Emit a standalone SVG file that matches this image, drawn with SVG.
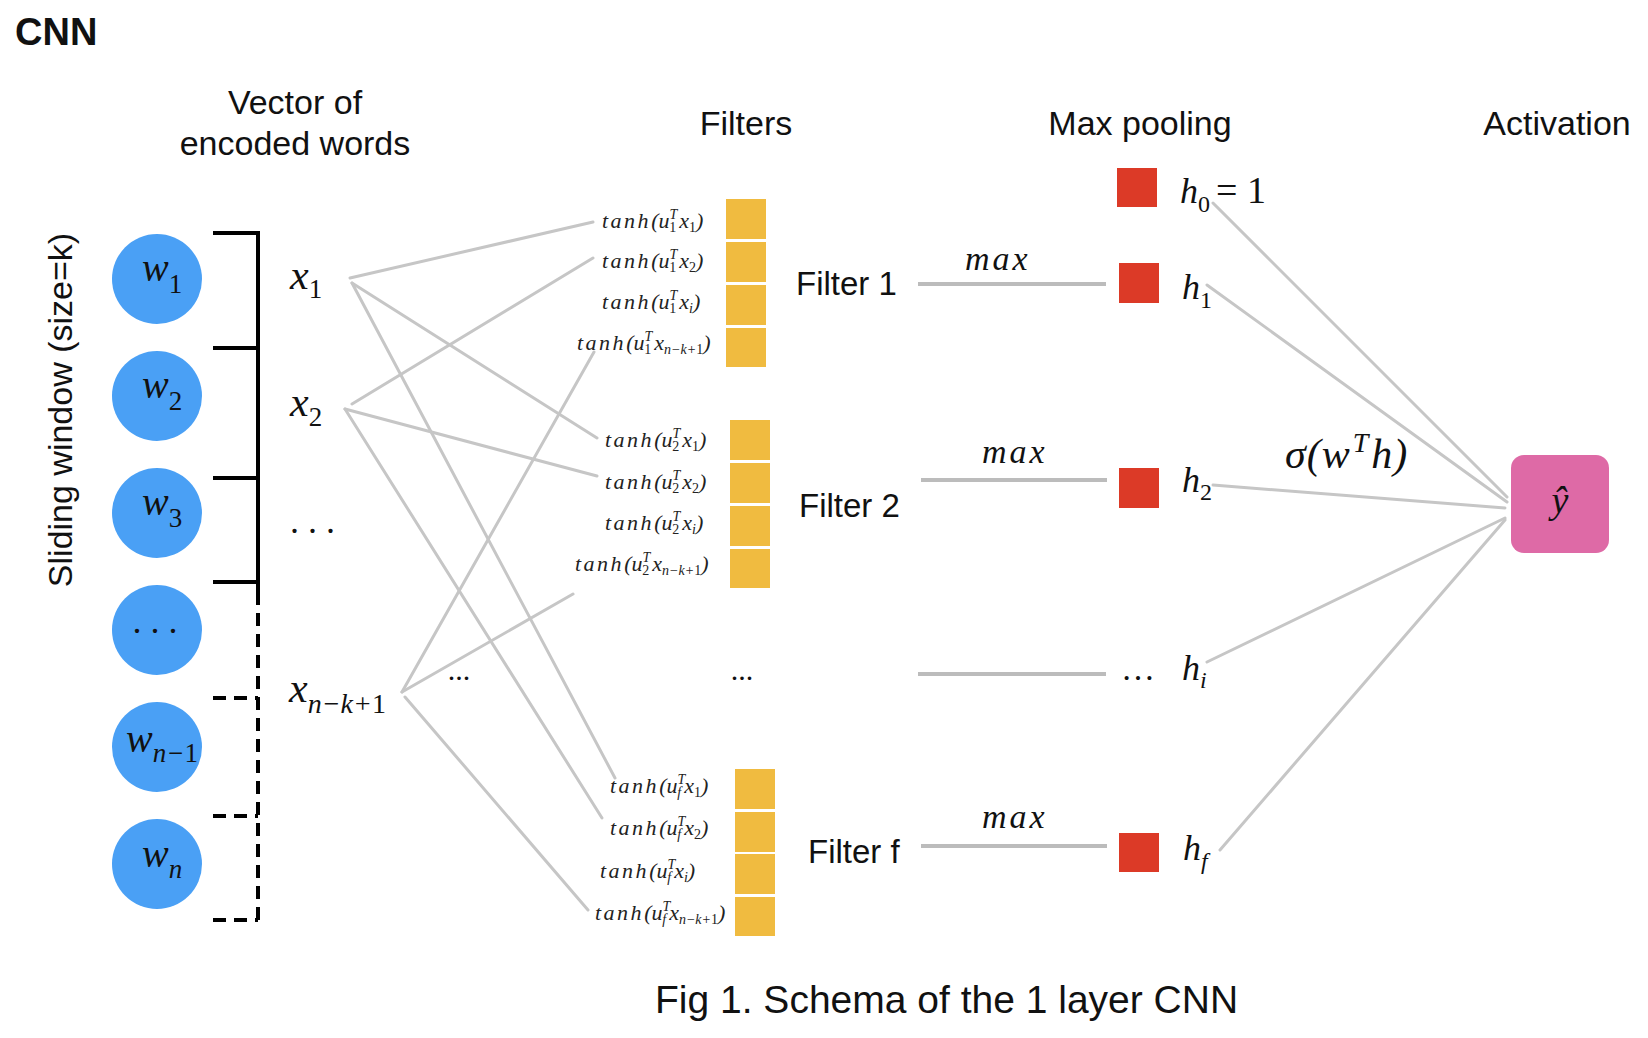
<svg xmlns="http://www.w3.org/2000/svg" width="1648" height="1038" viewBox="0 0 1648 1038">
<style>
.sans{font-family:"Liberation Sans",Arial,sans-serif;fill:#111}
.hd{font-size:34px}
.math{font-family:"Liberation Serif","Times New Roman",serif;font-style:italic;fill:#111}
.tf{font-family:"Liberation Serif","Times New Roman",serif;font-style:italic;font-size:22px;fill:#222}
.sp{letter-spacing:2.5px}
.sm{font-size:14px}
.up{font-style:normal}
.con{stroke:#c6c6c6;stroke-width:3;fill:none;stroke-linecap:round}
.mx{stroke:#bcbcbc;stroke-width:4;fill:none}
.word{fill:#4aa0f5}
.cell{fill:#f0bb40}
.pool{fill:#dc3a27}
.br{stroke:#000;stroke-width:4;fill:none}
.brd{stroke:#000;stroke-width:4;fill:none;stroke-dasharray:13 8}
</style>
<rect width="1648" height="1038" fill="#fff"/>
<text class="sans" x="15" y="45" font-size="38" font-weight="bold">CNN</text>
<g id="headers" class="sans hd" text-anchor="middle">
<text x="295" y="114">Vector of</text>
<text x="295" y="155">encoded words</text>
<text x="746" y="135">Filters</text>
<text x="1140" y="135">Max pooling</text>
<text x="1557" y="135">Activation</text>
<text transform="translate(72,410) rotate(-90)">Sliding window (size=k)</text>
</g>
<g id="connectors">
<line class="con" x1="350" y1="278" x2="593" y2="222"/>
<line class="con" x1="352" y1="283" x2="597" y2="438"/>
<line class="con" x1="352" y1="283" x2="615" y2="778"/>
<line class="con" x1="352" y1="404" x2="593" y2="258"/>
<line class="con" x1="345" y1="409" x2="597" y2="476"/>
<line class="con" x1="345" y1="409" x2="602" y2="818"/>
<line class="con" x1="402" y1="692" x2="594" y2="352"/>
<line class="con" x1="402" y1="692" x2="573" y2="594"/>
<line class="con" x1="405" y1="697" x2="588" y2="910"/>
<line class="mx" x1="918" y1="284" x2="1106" y2="284"/>
<line class="mx" x1="921" y1="480" x2="1107" y2="480"/>
<line class="mx" x1="918" y1="674" x2="1106" y2="674"/>
<line class="mx" x1="921" y1="846" x2="1107" y2="846"/>
<line class="con" x1="1213" y1="203" x2="1507" y2="497"/>
<line class="con" x1="1207" y1="285" x2="1507" y2="502"/>
<line class="con" x1="1213" y1="485" x2="1505" y2="508"/>
<line class="con" x1="1207" y1="662" x2="1505" y2="518"/>
<line class="con" x1="1220" y1="850" x2="1505" y2="520"/>
<path class="br" d="M213,233 H258 V592 M213,348 H258 M213,478 H258 M213,582 H258"/>
<path class="brd" d="M258,592 V922 M213,698 H258 M213,816 H258 M213,920 H258"/>
</g>
<g id="w1"><circle class="word" cx="157" cy="279" r="45"/><text class="math" x="142" y="281" font-size="40">w<tspan class="up" font-size="27" dy="12">1</tspan></text></g>
<g id="w2"><circle class="word" cx="157" cy="396" r="45"/><text class="math" x="142" y="398" font-size="40">w<tspan class="up" font-size="27" dy="12">2</tspan></text></g>
<g id="w3"><circle class="word" cx="157" cy="513" r="45"/><text class="math" x="142" y="515" font-size="40">w<tspan class="up" font-size="27" dy="12">3</tspan></text></g>
<g id="wdots"><circle class="word" cx="157" cy="630" r="45"/><text class="math up" x="155" y="633" font-size="36" text-anchor="middle">. . .</text></g>
<g id="wn1"><circle class="word" cx="157" cy="747" r="45"/><text class="math" x="126" y="752" font-size="40">w<tspan font-size="27" dy="10">n−</tspan><tspan class="up" font-size="27">1</tspan></text></g>
<g id="wn"><circle class="word" cx="157" cy="864" r="45"/><text class="math" x="142" y="867" font-size="40">w<tspan font-size="27" dy="11">n</tspan></text></g>
<g id="x1"><text class="math" x="290" y="289" font-size="42">x<tspan class="up" font-size="27" dy="9">1</tspan></text></g>
<g id="x2"><text class="math" x="290" y="416" font-size="42">x<tspan class="up" font-size="27" dy="10">2</tspan></text></g>
<g id="xdots"><text class="math up" x="290" y="533" font-size="36">. . .</text></g>
<g id="xnk1"><text class="math" x="289" y="702" font-size="42">x<tspan font-size="28" dy="11">n−k+</tspan><tspan class="up" font-size="28">1</tspan></text></g>
<text class="math up" x="459" y="680" font-size="30" text-anchor="middle">...</text>
<g id="filter1">
<rect class="cell" x="726" y="199" width="40" height="40"/>
<rect class="cell" x="726" y="242" width="40" height="40"/>
<rect class="cell" x="726" y="285" width="40" height="40"/>
<rect class="cell" x="726" y="328" width="40" height="39"/>
<text class="tf" x="602" y="228"><tspan class="sp">tanh</tspan>(u<tspan class="sm" dy="-9">T</tspan><tspan class="sm up" dx="-8" dy="13">1</tspan><tspan dx="3" dy="-4">x</tspan><tspan class="sm up" dy="4">1</tspan><tspan dy="-4">)</tspan></text>
<text class="tf" x="602" y="268"><tspan class="sp">tanh</tspan>(u<tspan class="sm" dy="-9">T</tspan><tspan class="sm up" dx="-8" dy="13">1</tspan><tspan dx="3" dy="-4">x</tspan><tspan class="sm up" dy="4">2</tspan><tspan dy="-4">)</tspan></text>
<text class="tf" x="602" y="309"><tspan class="sp">tanh</tspan>(u<tspan class="sm" dy="-9">T</tspan><tspan class="sm up" dx="-8" dy="13">1</tspan><tspan dx="3" dy="-4">x</tspan><tspan class="sm" dy="4">i</tspan><tspan dy="-4">)</tspan></text>
<text class="tf" x="577" y="350"><tspan class="sp">tanh</tspan>(u<tspan class="sm" dy="-9">T</tspan><tspan class="sm up" dx="-8" dy="13">1</tspan><tspan dx="3" dy="-4">x</tspan><tspan class="sm" dy="4">n−k+</tspan><tspan class="sm up">1</tspan><tspan dy="-4">)</tspan></text>
<text class="sans" x="796" y="295" font-size="33">Filter 1</text>
</g>
<g id="filter2">
<rect class="cell" x="730" y="420" width="40" height="40"/>
<rect class="cell" x="730" y="463" width="40" height="40"/>
<rect class="cell" x="730" y="506" width="40" height="40"/>
<rect class="cell" x="730" y="549" width="40" height="39"/>
<text class="tf" x="605" y="447"><tspan class="sp">tanh</tspan>(u<tspan class="sm" dy="-9">T</tspan><tspan class="sm up" dx="-8" dy="13">2</tspan><tspan dx="3" dy="-4">x</tspan><tspan class="sm up" dy="4">1</tspan><tspan dy="-4">)</tspan></text>
<text class="tf" x="605" y="489"><tspan class="sp">tanh</tspan>(u<tspan class="sm" dy="-9">T</tspan><tspan class="sm up" dx="-8" dy="13">2</tspan><tspan dx="3" dy="-4">x</tspan><tspan class="sm up" dy="4">2</tspan><tspan dy="-4">)</tspan></text>
<text class="tf" x="605" y="530"><tspan class="sp">tanh</tspan>(u<tspan class="sm" dy="-9">T</tspan><tspan class="sm up" dx="-8" dy="13">2</tspan><tspan dx="3" dy="-4">x</tspan><tspan class="sm" dy="4">i</tspan><tspan dy="-4">)</tspan></text>
<text class="tf" x="575" y="571"><tspan class="sp">tanh</tspan>(u<tspan class="sm" dy="-9">T</tspan><tspan class="sm up" dx="-8" dy="13">2</tspan><tspan dx="3" dy="-4">x</tspan><tspan class="sm" dy="4">n−k+</tspan><tspan class="sm up">1</tspan><tspan dy="-4">)</tspan></text>
<text class="sans" x="799" y="517" font-size="33">Filter 2</text>
</g>
<text class="math up" x="742" y="680" font-size="30" text-anchor="middle">...</text>
<g id="filterf">
<rect class="cell" x="735" y="769" width="40" height="40"/>
<rect class="cell" x="735" y="812" width="40" height="40"/>
<rect class="cell" x="735" y="854" width="40" height="40"/>
<rect class="cell" x="735" y="897" width="40" height="39"/>
<text class="tf" x="610" y="793"><tspan class="sp">tanh</tspan>(u<tspan class="sm" dy="-9">T</tspan><tspan class="sm" dx="-8" dy="13">f</tspan><tspan dx="3" dy="-4">x</tspan><tspan class="sm up" dy="4">1</tspan><tspan dy="-4">)</tspan></text>
<text class="tf" x="610" y="835"><tspan class="sp">tanh</tspan>(u<tspan class="sm" dy="-9">T</tspan><tspan class="sm" dx="-8" dy="13">f</tspan><tspan dx="3" dy="-4">x</tspan><tspan class="sm up" dy="4">2</tspan><tspan dy="-4">)</tspan></text>
<text class="tf" x="600" y="878"><tspan class="sp">tanh</tspan>(u<tspan class="sm" dy="-9">T</tspan><tspan class="sm" dx="-8" dy="13">f</tspan><tspan dx="3" dy="-4">x</tspan><tspan class="sm" dy="4">i</tspan><tspan dy="-4">)</tspan></text>
<text class="tf" x="595" y="920"><tspan class="sp">tanh</tspan>(u<tspan class="sm" dy="-9">T</tspan><tspan class="sm" dx="-8" dy="13">f</tspan><tspan dx="3" dy="-4">x</tspan><tspan class="sm" dy="4">n−k+</tspan><tspan class="sm up">1</tspan><tspan dy="-4">)</tspan></text>
<text class="sans" x="808" y="863" font-size="33">Filter f</text>
</g>
<g id="maxlabels" class="math" font-size="34" letter-spacing="3">
<text x="965" y="270">max</text>
<text x="982" y="463">max</text>
<text x="982" y="828">max</text>
</g>
<g id="h0"><rect class="pool" x="1117" y="168" width="40" height="39"/><text class="math" x="1180" y="203" font-size="36">h<tspan class="up" font-size="24" dy="9">0</tspan><tspan class="up" font-size="38" dx="6" dy="-9">= 1</tspan></text></g>
<g id="h1"><rect class="pool" x="1119" y="263" width="40" height="40"/><text class="math" x="1182" y="299" font-size="36">h<tspan class="up" font-size="24" dy="9">1</tspan></text></g>
<g id="h2"><rect class="pool" x="1119" y="468" width="40" height="40"/><text class="math" x="1182" y="492" font-size="36">h<tspan class="up" font-size="24" dy="8">2</tspan></text></g>
<g id="hi"><text class="math up" x="1138" y="680" font-size="34" text-anchor="middle">…</text><text class="math" x="1182" y="680" font-size="36">h<tspan font-size="24" dy="8">i</tspan></text></g>
<g id="hf"><rect class="pool" x="1119" y="833" width="40" height="39"/><text class="math" x="1183" y="860" font-size="36">h<tspan font-size="24" dy="9">f</tspan></text></g>
<text class="math" x="1285" y="468" font-size="42" letter-spacing="1">σ(w<tspan font-size="28" dx="2" dy="-16">T</tspan><tspan dx="2" dy="16">h)</tspan></text>
<g id="yhat"><rect x="1511" y="455" width="98" height="98" rx="13" fill="#de6aa6"/><text class="math" x="1560" y="513" font-size="38" text-anchor="middle">ŷ</text></g>
<text class="sans" x="655" y="1013" font-size="39">Fig 1. Schema of the 1 layer CNN</text>
</svg>
